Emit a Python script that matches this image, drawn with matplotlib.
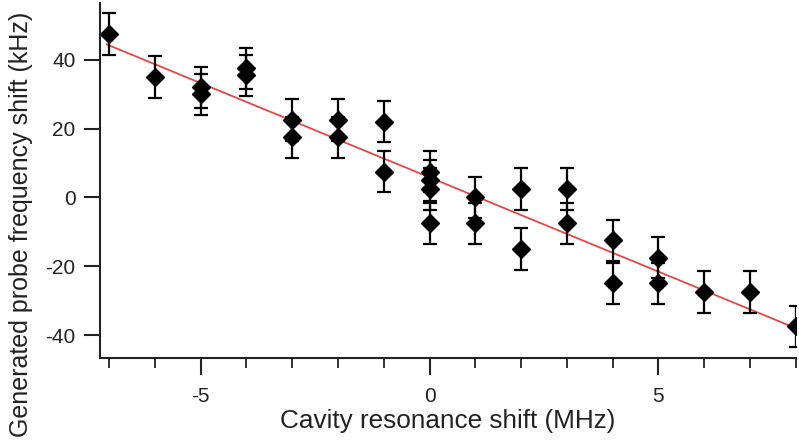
import numpy as np
from matplotlib import pyplot as plt
from matplotlib.ticker import MultipleLocator

plt.rcParams['font.family'] = ['Liberation Sans', 'DejaVu Sans']
plt.rcParams['axes.unicode_minus'] = False

# cavity shift (MHz) and generated probe shift (kHz)
shift_x = [-7, -6, -5, -5, -4, -4, -3, -3, -2, -2, -1, -1,
           0, 0, 0, 0, 1, 1, 2, 2, 3, 3, 4, 4, 5, 5, 6, 7, 8]
shift_y = [47.5, 35, 32, 30, 37.5, 35.5, 22.5, 17.5, 22.5, 17.5, 22, 7.5,
           7.5, 5, 2.5, -7.5, 0, -7.5, 2.5, -15, 2.5, -7.5, -12.5, -25, -17.5, -25,
           -27.5, -27.5, -37.5]
err = [6] * len(shift_x)

# linear fit end points
fit_x = [-7.05, 8.0]
fit_y = [44.5, -38.0]

fig = plt.figure(figsize=(7.99, 4.46), dpi=100)
ax = fig.add_axes([0.125, 0.197, 0.871, 0.796])

ax.plot(fit_x, fit_y, color='#e24848', lw=1.3, zorder=1)
ax.errorbar(shift_x, shift_y, yerr=err, fmt='D', color='black', ms=9.5,
            capsize=5, elinewidth=1.6, capthick=1.6, zorder=2)

ax.set_xlim(-7.2, 8.0)
ax.set_ylim(-46.7, 56.5)
ax.xaxis.set_major_locator(MultipleLocator(5))
ax.xaxis.set_minor_locator(MultipleLocator(1))
ax.yaxis.set_major_locator(MultipleLocator(20))
ax.spines['top'].set_visible(False)
ax.spines['right'].set_visible(False)
for s in ['left', 'bottom']:
    ax.spines[s].set_linewidth(1.5)
    ax.spines[s].set_color('#222222')
ax.tick_params(axis='x', which='major', direction='out', length=12, width=1.5,
               labelsize=15, pad=9, colors='#222222')
ax.tick_params(axis='y', which='major', direction='out', length=11.5, width=1.5,
               labelsize=15, pad=6, colors='#222222')
ax.tick_params(axis='x', which='minor', direction='out', length=7, width=1.3, colors='#222222')

ax.set_xlabel('Cavity resonance shift (MHz)', fontsize=18.8, labelpad=2, color='#222222')
ax.set_ylabel('Generated probe frequency shift (kHz)', fontsize=18, color='#222222')
ax.yaxis.set_label_coords(-0.096, 0.377)

fig.savefig('out.png', dpi=100)
